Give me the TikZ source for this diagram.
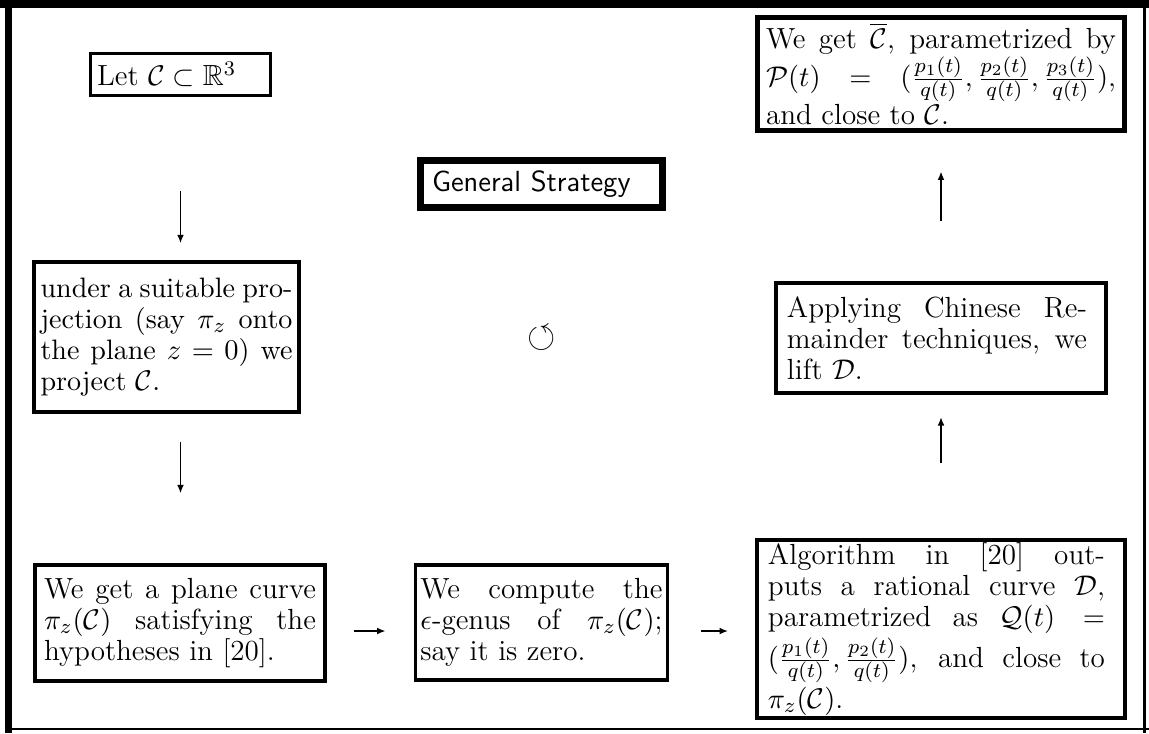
\documentclass[tikz,border=0pt]{standalone}
\usepackage{amsmath,amssymb}
\usetikzlibrary{arrows.meta}
\newcommand{\jst}{\rightskip=0pt\leftskip=0pt\parfillskip=0pt plus 1fil\relax}
\begin{document}
\begin{tikzpicture}[x=0.3846pt,y=-0.3846pt,
  bx/.style={draw, align=justify, inner ysep=0pt, font=\fontsize{11.2}{12}\selectfont},
  arr/.style={line width=0.55pt, -{Latex[length=3.2pt,width=2.6pt]}}
]
\useasboundingbox (0,0) rectangle (1149,733);
% outer frame
\draw[line width=2.7pt] (0,4) -- (1149,4);
\draw[line width=2.7pt] (8.5,0) -- (8.5,733);
\draw[line width=1pt] (1144.5,8) -- (1144.5,733);
\draw[line width=0.8pt] (12,729) -- (1149,729);

\node[bx, align=left, line width=1.2pt, inner xsep=2.42pt, text width=64.2pt, minimum height=16.1pt] (A) at (180.5,74.5)
  {Let $\mathcal{C}\subset\mathbb{R}^3$};

\node[bx, font=\fontsize{10.8}{12}\selectfont, line width=1.4pt, inner xsep=2.6pt, text width=96.9pt, minimum height=57.8pt] (B) at (166.5,337)
  {\jst under a suitable pro-\linebreak jection (say $\pi_z$ onto\linebreak the plane $z=0$) we\linebreak project $\mathcal{C}$.};

\node[bx, line width=1.4pt, inner xsep=3.54pt, text width=104.6pt, minimum height=44.8pt] (C) at (180,623)
  {\jst We get a plane curve\linebreak $\pi_z(\mathcal{C})$ satisfying the\linebreak hypotheses in [20].};

\node[bx, line width=1.5pt, inner xsep=1.92pt, text width=93.1pt, minimum height=44.2pt] (D) at (541.5,622.5)
  {\jst We compute the\linebreak $\epsilon$-genus of $\pi_z(\mathcal{C})$;\linebreak say it is zero.};

\node[bx, line width=1.6pt, inner xsep=4.17pt, text width=133.1pt, minimum height=68.5pt] (E) at (941,629)
  {\parbox{129.6pt}{\jst\lineskip=1.5pt Algorithm in [20] out-\linebreak puts a rational curve $\mathcal{D}$,\linebreak parametrized as $\mathcal{Q}(t) =$\linebreak $(\frac{p_1(t)}{q(t)},\frac{p_2(t)}{q(t)})$, and close to\linebreak $\pi_z(\mathcal{C})$.}};

\node[bx, line width=1.6pt, inner xsep=4.17pt, text width=118.5pt, minimum height=42.3pt] (F) at (941,338)
  {\parbox{115.4pt}{\jst Applying Chinese Re-\linebreak mainder techniques, we\linebreak lift $\mathcal{D}$.}};

\node[bx, line width=1.9pt, inner xsep=3.27pt, text width=134.6pt, minimum height=43.5pt] (G) at (941,74)
  {\jst\lineskip=1.8pt We get $\overline{\mathcal{C}}$, parametrized by\linebreak $\mathcal{P}(t) = (\frac{p_1(t)}{q(t)},\frac{p_2(t)}{q(t)},\frac{p_3(t)}{q(t)})$,\linebreak and close to $\mathcal{C}$.};

\node[bx, align=left, line width=2.7pt, inner xsep=4.42pt, text width=84.2pt, minimum height=18.1pt] (H) at (541.5,184)
  {\sffamily General Strategy};

\node[font=\fontsize{14}{14}\selectfont] (rot) at (542,338) {$\circlearrowleft$};

\draw[arr, shorten <=36.3pt, shorten >=6.5pt] (A.south) -- (A.south |- B.north);
\draw[arr, shorten <=10.7pt, shorten >=26.8pt] (A.south |- B.south) -- (A.south |- C.north);
\draw[arr, shorten <=10.3pt, shorten >=10.8pt] ([yshift=-3.08pt]C.east) -- ([yshift=-3.08pt]C.east -| D.west);
\draw[arr, shorten <=12.3pt, shorten >=10.4pt] ([yshift=-3.27pt]D.east) -- ([yshift=-3.27pt]D.east -| E.west);
\draw[arr, shorten <=28.8pt, shorten >=8.5pt] (E.north) -- (E.north |- F.south);
\draw[arr, shorten <=23.1pt, shorten >=14.8pt] (F.north) -- (F.north |- G.south);
\end{tikzpicture}
\end{document}
